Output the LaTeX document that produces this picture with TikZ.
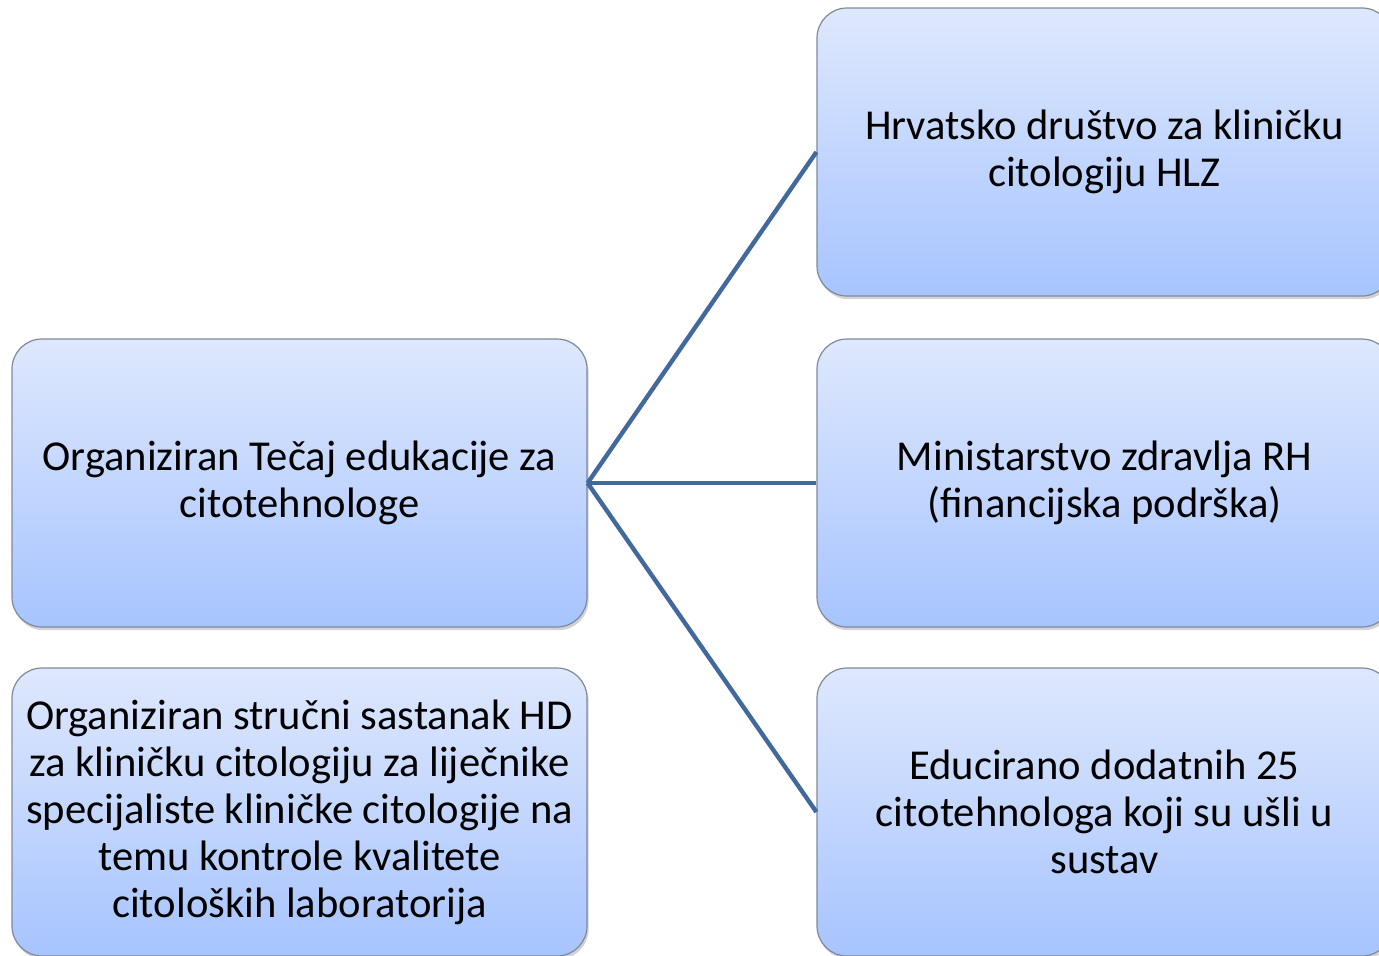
\documentclass[tikz,border=0pt]{standalone}
\usepackage{fontspec}
\setmainfont{Carlito}
\usetikzlibrary{shadows}
\definecolor{boxtop}{HTML}{DEE8FD}
\definecolor{boxbot}{HTML}{A7C4FE}
\definecolor{boxline}{HTML}{7D8A9C}
\definecolor{linkblue}{HTML}{41699D}
\tikzset{
  infobox/.style={draw=boxline, line width=0.6pt, rounded corners=15pt,
    top color=boxtop, bottom color=boxbot, minimum width=287.5pt,
    minimum height=144pt, align=center, inner sep=2pt,
    font=\fontsize{21.3}{23.5}\selectfont,
    drop shadow={shadow xshift=0.8pt, shadow yshift=-1.6pt, opacity=0.35}},
  link/.style={draw=linkblue, line width=2.2pt}
}
\begin{document}
\begin{tikzpicture}[x=0.5pt,y=-0.5pt]
            \useasboundingbox (0,0) rectangle (1379,955);
            \node[infobox] (tecaj) at (299.5,483) {Organiziran Tečaj edukacije za\\citotehnologe};
            \node[infobox] (sastanak) at (299.5,812) {Organiziran stručni sastanak HD\\za kliničku citologiju za liječnike\\specijaliste kliničke citologije na\\temu kontrole kvalitete\\citoloških laboratorija};
            \node[infobox] (hlz) at (1104.5,152) {Hrvatsko društvo za kliničku\\citologiju HLZ};
            \node[infobox] (ministarstvo) at (1104.5,483) {Ministarstvo zdravlja RH\\(financijska podrška)};
            \node[infobox] (educirano) at (1104.5,812) {Educirano dodatnih 25\\citotehnologa koji su ušli u\\sustav};
            \draw[link] (tecaj.east) -- (hlz.west);
            \draw[link] (tecaj.east) -- (ministarstvo.west);
            \draw[link] (tecaj.east) -- (educirano.west);
\end{tikzpicture}
\end{document}
